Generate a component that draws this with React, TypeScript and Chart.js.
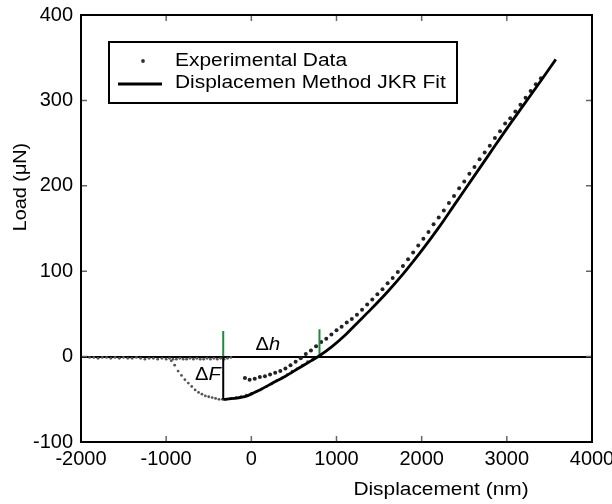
import React, { useEffect, useRef } from 'react';
import { Chart, registerables } from 'chart.js';

Chart.register(...registerables);

// ---------------- data ----------------
const X_MIN = -2000;
const X_MAX = 4000;
const X_STEP = 1000;
const Y_MIN = -100;
const Y_MAX = 400;
const Y_STEP = 100;

const LABEL_EXP = 'Experimental Data';
const LABEL_FIT = 'Displacemen Method JKR Fit';
const X_TITLE = 'Displacement (nm)';
const Y_TITLE = 'Load (μN)';

// approach: flat part near zero load
const flatX = [-1900, -1850, -1800, -1750, -1700, -1650, -1600, -1550, -1500, -1450, -1400, -1350, -1300, -1250, -1200, -1150, -1100, -1050, -1000, -960, -920, -880, -840, -800, -760, -720, -680, -640, -600, -560, -520, -480, -440, -400, -360, -320, -280, -240];
const flatY = [-1, -1, -2, -1, -1, -2, -1, -2, -1, -2, -2, -1, -2, -3, -2, -2, -3, -2, -3, -2, -3, -3, -2, -3, -3, -2, -3, -2, -3, -3, -2, -3, -2, -3, -2, -3, -2, -1];

// snap-in drop and loading along the fit
const dropX = [-940, -900, -860, -820, -780, -740, -700, -660, -620, -580, -540, -500, -460, -420, -380, -340, -300, -240, -180, -120, -60, 0, 60, 120, 180, 240, 300, 360, 420, 480, 540, 600, 660, 720];
const dropY = [-5, -10, -17, -22, -27, -31, -35, -39, -42, -44, -46, -47, -48, -49, -50, -50, -50, -49, -48, -47, -45, -43, -41, -38, -35, -32, -28, -25, -21, -17, -14, -10, -6, -3];

// upper branch of experimental data
const upX = [-75, -20, 40, 100, 160, 220, 280, 340, 400, 460, 520, 580, 640, 700, 760, 820, 880, 940, 1000, 1060, 1120, 1180, 1240, 1300, 1360, 1420, 1480, 1540, 1600, 1660, 1720, 1780, 1840, 1900, 1960, 2020, 2080, 2140, 2200, 2260, 2320, 2380, 2440, 2500, 2560, 2620, 2680, 2740, 2800, 2860, 2920, 2980, 3040, 3100, 3160, 3220, 3280, 3340, 3400];
const upY = [-25, -27, -26, -24, -23, -21, -19, -17, -14, -10, -6, -2, 3, 7, 12, 17, 21, 26, 31, 35, 40, 44, 49, 55, 61, 67, 73, 79, 86, 92, 99, 106, 114, 122, 130, 138, 146, 155, 163, 171, 180, 188, 197, 205, 214, 222, 231, 239, 247, 256, 264, 273, 279, 287, 295, 303, 311, 319, 326];

// JKR fit curve
const fitX = [-330, -200, -50, 100, 250, 400, 550, 700, 800, 950, 1100, 1250, 1400, 1600, 1800, 2000, 2200, 2400, 2600, 2800, 3000, 3200, 3400, 3575];
const fitY = [-50, -49, -46, -39, -31, -23, -14, -5, 1, 12, 25, 40, 55, 76, 99, 124, 151, 180, 209, 238, 267, 295, 323, 348];

// annotation markers (data units)
const DF_X = -330;
const DF_BOTTOM = -50;
const DF_GREEN_TOP = 30;
const DH_X = 800;
const DH_GREEN_TOP = 32;
const DH_LABEL = { x: 50, y: 13 };
const DF_LABEL = { x: -360, y: -22 };

// ---------------- helpers ----------------
const FONT = '"Liberation Sans", Arial, Helvetica, sans-serif';
const GREEN = '#1f8a3a';

const toPts = (xs: number[], ys: number[]) => xs.map((x, i) => ({ x, y: ys[i] }));

type Part = { text: string; italic?: boolean };

function drawParts(
  ctx: CanvasRenderingContext2D,
  parts: Part[],
  x: number,
  y: number,
  size: number,
  sx: number,
  align: 'left' | 'right' | 'center',
  color = '#000'
) {
  ctx.save();
  ctx.textBaseline = 'middle';
  ctx.textAlign = 'left';
  ctx.fillStyle = color;
  const widths = parts.map((p) => {
    ctx.font = `${p.italic ? 'italic ' : ''}${size}px ${FONT}`;
    return ctx.measureText(p.text).width * sx;
  });
  const total = widths.reduce((a, b) => a + b, 0);
  let left = x;
  if (align === 'center') left = x - total / 2;
  else if (align === 'right') left = x - total;
  parts.forEach((p, i) => {
    ctx.font = `${p.italic ? 'italic ' : ''}${size}px ${FONT}`;
    ctx.save();
    ctx.translate(left, y);
    ctx.scale(sx, 1);
    ctx.fillText(p.text, 0, 0);
    ctx.restore();
    left += widths[i];
  });
  ctx.restore();
}

const decorPlugin = {
  id: 'decor',
  afterDraw(chart: any) {
    const ctx: CanvasRenderingContext2D = chart.ctx;
    const { left, right, top, bottom } = chart.chartArea;
    const xs = chart.scales.x;
    const ys = chart.scales.y;

    // inward ticks on all four sides
    ctx.save();
    ctx.strokeStyle = '#666';
    ctx.lineWidth = 1.5;
    const TL = 6;
    xs.ticks.forEach((t: any) => {
      const px = xs.getPixelForValue(t.value);
      ctx.beginPath();
      ctx.moveTo(px, bottom);
      ctx.lineTo(px, bottom - TL);
      ctx.moveTo(px, top);
      ctx.lineTo(px, top + TL);
      ctx.stroke();
    });
    ys.ticks.forEach((t: any) => {
      const py = ys.getPixelForValue(t.value);
      ctx.beginPath();
      ctx.moveTo(left, py);
      ctx.lineTo(left + TL, py);
      ctx.moveTo(right, py);
      ctx.lineTo(right - TL, py);
      ctx.stroke();
    });
    // frame
    ctx.strokeStyle = '#000';
    ctx.lineWidth = 2;
    ctx.strokeRect(left, top, right - left, bottom - top);
    ctx.restore();

    // annotation labels
    drawParts(ctx, [{ text: 'Δ' }, { text: 'h', italic: true }], xs.getPixelForValue(DH_LABEL.x), ys.getPixelForValue(DH_LABEL.y), 17.5, 1.15, 'left');
    drawParts(ctx, [{ text: 'Δ' }, { text: 'F', italic: true }], xs.getPixelForValue(DF_LABEL.x), ys.getPixelForValue(DF_LABEL.y), 17.5, 1.15, 'right');

    // legend box
    const lx = left + 28;
    const ly = top + 27;
    const lw = 348;
    const lh = 61;
    ctx.save();
    ctx.fillStyle = '#fff';
    ctx.fillRect(lx, ly, lw, lh);
    ctx.strokeStyle = '#000';
    ctx.lineWidth = 2;
    ctx.strokeRect(lx, ly, lw, lh);
    ctx.fillStyle = '#333';
    ctx.beginPath();
    ctx.arc(lx + 34, ly + 19, 1.9, 0, Math.PI * 2);
    ctx.fill();
    ctx.lineWidth = 3;
    ctx.beginPath();
    ctx.moveTo(lx + 9, ly + 42);
    ctx.lineTo(lx + 53, ly + 42);
    ctx.stroke();
    ctx.restore();
    const dsLabels = chart.data.datasets.map((d: any) => d.label);
    drawParts(ctx, [{ text: dsLabels[0] }], lx + 66, ly + 19, 17.5, 1.195, 'left');
    drawParts(ctx, [{ text: dsLabels[1] }], lx + 66, ly + 41, 17.5, 1.195, 'left');

    // axis titles
    drawParts(ctx, [{ text: X_TITLE }], 441, 490, 18, 1.16, 'center');
    ctx.save();
    ctx.translate(21.5, 187);
    ctx.rotate(-Math.PI / 2);
    drawParts(ctx, [{ text: Y_TITLE }], 0, 0, 17.5, 1.13, 'center');
    ctx.restore();
  },
};

export default function App() {
  const canvasRef = useRef<HTMLCanvasElement | null>(null);

  useEffect(() => {
    if (!canvasRef.current) return;
    const tickFont = { family: FONT, size: 20 };
    const chart = new Chart(canvasRef.current, {
      type: 'scatter',
      data: {
        datasets: [
          {
            label: LABEL_EXP,
            data: toPts(upX, upY),
            showLine: false,
            pointRadius: 2,
            pointBackgroundColor: '#222',
            pointBorderWidth: 0,
            order: 2,
          },
          {
            label: LABEL_FIT,
            data: toPts(fitX, fitY),
            showLine: true,
            borderColor: '#000',
            borderWidth: 2.8,
            pointRadius: 0,
            cubicInterpolationMode: 'monotone',
            fill: false,
            order: 0,
          },
          {
            label: LABEL_EXP + ' (approach)',
            data: [...toPts(flatX, flatY), ...toPts(dropX, dropY)],
            showLine: false,
            pointRadius: 1.4,
            pointBackgroundColor: '#555',
            pointBorderWidth: 0,
            order: 3,
          },
          {
            label: 'dF',
            data: [{ x: DF_X, y: 0 }, { x: DF_X, y: DF_BOTTOM }],
            showLine: true,
            borderColor: '#000',
            borderWidth: 2,
            pointRadius: 0,
            order: 1,
          },
          {
            label: 'dF green',
            data: [{ x: DF_X, y: 0 }, { x: DF_X, y: DF_GREEN_TOP }],
            showLine: true,
            borderColor: GREEN,
            borderWidth: 2,
            pointRadius: 0,
            order: 1,
          },
          {
            label: 'dh green',
            data: [{ x: DH_X, y: 0 }, { x: DH_X, y: DH_GREEN_TOP }],
            showLine: true,
            borderColor: GREEN,
            borderWidth: 2,
            pointRadius: 0,
            order: 1,
          },
        ],
      },
      options: {
        animation: false,
        responsive: true,
        maintainAspectRatio: false,
        layout: { padding: { top: 15, right: 20, left: 0, bottom: 0 } },
        plugins: {
          legend: { display: false },
          tooltip: { enabled: false },
        },
        scales: {
          x: {
            type: 'linear',
            min: X_MIN,
            max: X_MAX,
            ticks: {
              stepSize: X_STEP,
              color: '#000',
              font: tickFont,
              padding: 5,
              maxRotation: 0,
              callback: (v: any) => String(v),
            },
            grid: { display: false, drawTicks: false },
            border: { display: true, color: '#000', width: 2 },
            afterFit: (s: any) => {
              s.height = 62;
              s.paddingLeft = 0;
              s.paddingRight = 0;
            },
          },
          y: {
            type: 'linear',
            min: Y_MIN,
            max: Y_MAX,
            ticks: {
              stepSize: Y_STEP,
              color: '#000',
              font: tickFont,
              padding: 8,
              callback: (v: any) => String(v),
            },
            grid: {
              drawTicks: false,
              color: (c: any) => (c.tick && c.tick.value === 0 ? '#000' : 'rgba(0,0,0,0)'),
              lineWidth: 2,
            },
            border: { display: true, color: '#000', width: 2 },
            afterFit: (s: any) => {
              s.width = 81;
              s.paddingTop = 0;
              s.paddingBottom = 0;
            },
          },
        },
      },
      plugins: [decorPlugin],
    } as any);
    return () => chart.destroy();
  }, []);

  return (
    <div style={{ position: 'fixed', left: 0, top: 0, width: 612, height: 504, background: '#fff' }}>
      <canvas ref={canvasRef} />
    </div>
  );
}
